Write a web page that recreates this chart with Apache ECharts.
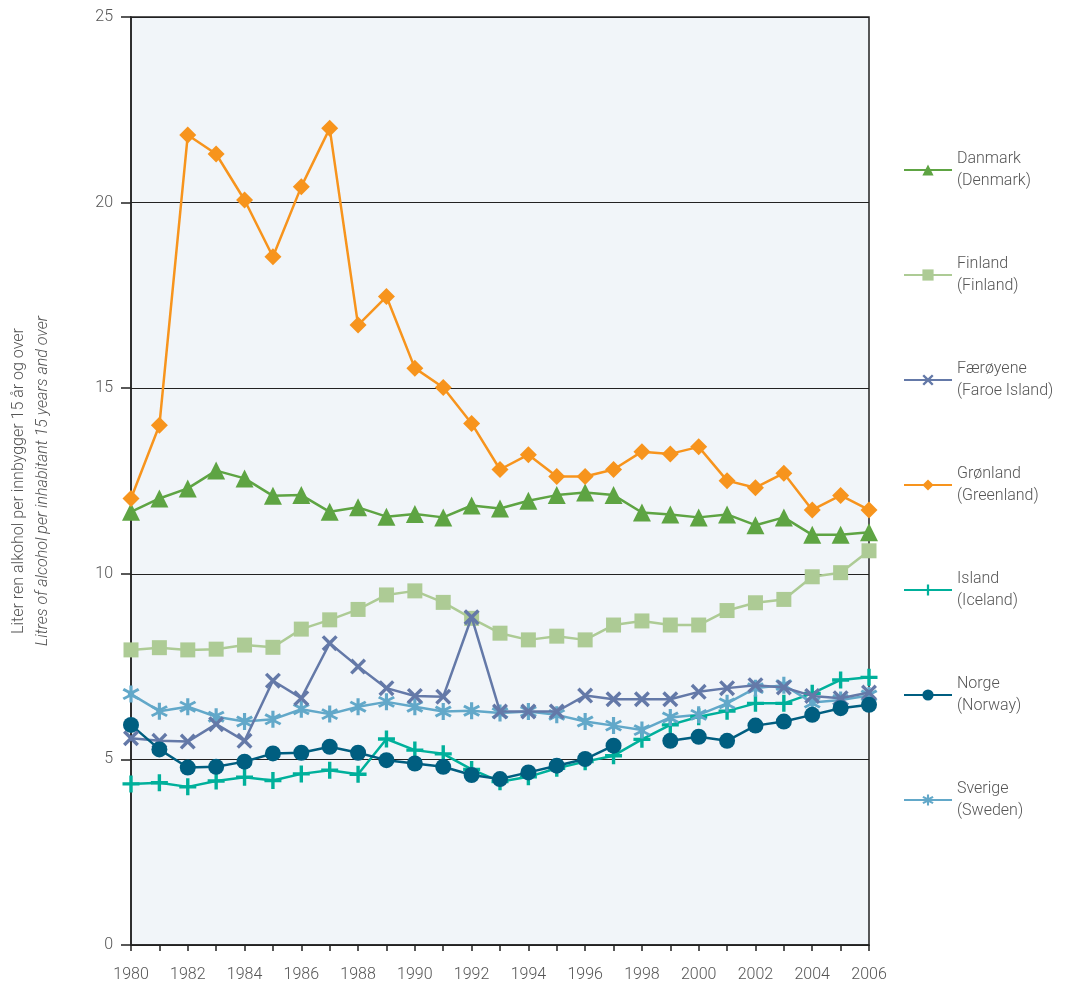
<!DOCTYPE html>
<html>
<head>
<meta charset="utf-8">
<script src="https://cdn.jsdelivr.net/npm/echarts@6/dist/echarts.min.js"></script>
<style>html,body{margin:0;padding:0;background:#fff}#c{width:1073px;height:987px}</style>
</head>
<body>
<div id="c"></div>
<script>
const years = ['1980','1981','1982','1983','1984','1985','1986','1987','1988','1989','1990','1991','1992','1993','1994','1995','1996','1997','1998','1999','2000','2001','2002','2003','2004','2005','2006'];
const danmark   = [11.67,12.03,12.30,12.78,12.57,12.10,12.12,11.67,11.79,11.54,11.61,11.52,11.84,11.76,11.97,12.12,12.19,12.12,11.65,11.60,11.52,11.60,11.31,11.52,11.05,11.05,11.12];
const finland   = [7.95,8.01,7.95,7.97,8.08,8.02,8.51,8.76,9.04,9.43,9.54,9.23,8.80,8.40,8.22,8.32,8.22,8.62,8.73,8.62,8.62,9.01,9.22,9.31,9.92,10.03,10.62];
const faroe     = [5.57,5.50,5.48,5.95,5.50,7.12,6.65,8.13,7.50,6.92,6.71,6.69,8.83,6.29,6.29,6.29,6.72,6.62,6.62,6.62,6.82,6.92,7.00,6.94,6.71,6.65,6.80];
const greenland = [12.03,14.0,21.82,21.31,20.07,18.54,20.43,22.0,16.70,17.47,15.54,15.02,14.05,12.81,13.21,12.62,12.62,12.81,13.29,13.23,13.42,12.51,12.32,12.71,11.72,12.11,11.72];
const iceland   = [4.34,4.37,4.26,4.42,4.52,4.43,4.61,4.71,4.60,5.55,5.25,5.15,4.73,4.40,4.53,4.76,4.94,5.10,5.54,5.93,6.15,6.30,6.51,6.51,6.78,7.14,7.21];
const norway    = [5.93,5.27,4.78,4.80,4.94,5.16,5.18,5.34,5.18,4.98,4.89,4.80,4.58,4.47,4.65,4.83,5.01,5.37,null,5.50,5.61,5.50,5.91,6.02,6.20,6.38,6.47];
const sweden    = [6.76,6.30,6.42,6.15,6.02,6.08,6.35,6.22,6.42,6.55,6.42,6.29,6.31,6.25,6.29,6.20,6.02,5.91,5.79,6.13,6.20,6.51,6.92,7.00,6.53,6.60,6.72];
const yTicks = [0,5,10,15,20,25];

const names = ['Danmark\n(Denmark)','Finland\n(Finland)','Færøyene\n(Faroe Island)','Grønland\n(Greenland)','Island\n(Iceland)','Norge\n(Norway)','Sverige\n(Sweden)'];
const datas = [danmark, finland, faroe, greenland, iceland, norway, sweden];
const colors = ['#5ea443','#adcb95','#6479a8','#f7941d','#00b09b','#005e80','#62a8c9'];
const plusPath = 'path://M4,0 L6,0 L6,4 L10,4 L10,6 L6,6 L6,10 L4,10 L4,6 L0,6 L0,4 L4,4 Z';
const starPath = 'path://M4.2,0 L5.8,0 L5.8,3.1 L8.5,1.5 L9.3,2.9 L6.6,4.5 L6.6,5.5 L9.3,7.1 L8.5,8.5 L5.8,6.9 L5.8,10 L4.2,10 L4.2,6.9 L1.5,8.5 L0.7,7.1 L3.4,5.5 L3.4,4.5 L0.7,2.9 L1.5,1.5 L4.2,3.1 Z';
const crossPath = 'path://M1.5,0 L5,3.5 L8.5,0 L10,1.5 L6.5,5 L10,8.5 L8.5,10 L5,6.5 L1.5,10 L0,8.5 L3.5,5 L0,1.5 Z';
const symbols = ['triangle','rect',crossPath,'diamond',plusPath,'circle',starPath];
const sizes = [18,15,16,17,17,16,17];

const chart = echarts.init(document.getElementById('c'), null, {renderer:'canvas'});
const series = names.map((n,i)=>({
  name:n, type:'line', data:datas[i], symbol:symbols[i], symbolSize:sizes[i],
  showSymbol:true, connectNulls:false,
  lineStyle:{color:colors[i], width:2.5},
  itemStyle:{color:colors[i], borderWidth:0},
  z: [3,2,4,5,3,4,3][i],
  emphasis:{disabled:true}
}));
chart.setOption({
  animation:false,
  backgroundColor:'#ffffff',
  grid:{left:131, right:204, top:17, bottom:42, containLabel:false, outerBoundsMode:'none',
        show:true, backgroundColor:'#f1f5f9', borderColor:'#222', borderWidth:1.5},
  legend:{
    orient:'vertical', left:898, top:143, itemWidth:48, itemHeight:14, itemGap:61,
    data:names,
    textStyle:{color:'#555', fontSize:16, lineHeight:22, fontFamily:'Roboto', fontWeight:300},
    selectedMode:false
  },
  xAxis:{
    type:'category', data:years, boundaryGap:false,
    axisLine:{lineStyle:{color:'#222', width:1.5}},
    axisTick:{show:true, interval:0, length:6, inside:false, lineStyle:{color:'#222', width:1.5}},
    axisLabel:{interval:1, color:'#555', fontSize:16, margin:22, fontFamily:'Roboto', fontWeight:300},
    splitLine:{show:false}
  },
  yAxis:{
    type:'value', min:yTicks[0], max:yTicks[yTicks.length-1], interval:5,
    axisLine:{show:true, lineStyle:{color:'#222', width:1.5}},
    axisTick:{show:true, length:10, lineStyle:{color:'#222', width:1.5}},
    axisLabel:{color:'#555', fontSize:16, margin:18, fontFamily:'Roboto', fontWeight:300},
    splitLine:{show:true, lineStyle:{color:'#222', width:1.2}},
    name:'{a|Liter ren alkohol per innbygger 15 år og over}\n{b|Litres of alcohol per inhabitant 15 years and over}',
    nameLocation:'middle', nameRotate:90, nameGap:76,
    nameTextStyle:{
      fontSize:16,
      rich:{
        a:{color:'#555', fontSize:16, lineHeight:24, fontFamily:'Roboto', fontWeight:300},
        b:{color:'#555', fontSize:16, lineHeight:24, fontStyle:'italic', fontFamily:'Roboto', fontWeight:300}
      }
    }
  },
  series:series
});
</script>
</body>
</html>
